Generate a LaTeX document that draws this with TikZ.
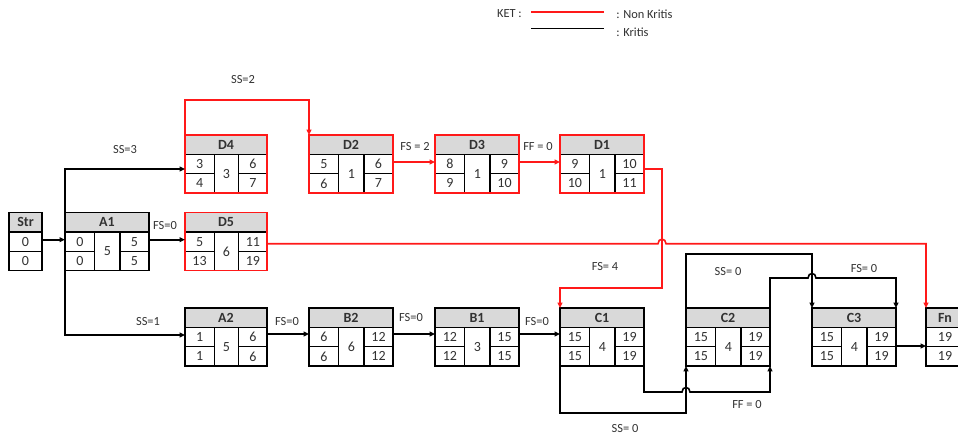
\documentclass[tikz,border=0pt]{standalone}
\usepackage{fontspec}
\setmainfont{Carlito}
\usetikzlibrary{calc,arrows.meta}
\definecolor{nkred}{RGB}{255,25,25}
\definecolor{hdr}{RGB}{217,217,217}
\definecolor{txt}{RGB}{50,50,50}
\tikzset{
  boxshape/.style={rectangle, inner sep=0pt, outer sep=0pt, minimum width=63pt, minimum height=43.5pt, anchor=north west},
  nk/.style={draw=nkred},
  kr/.style={draw=black},
  bord/.style={line width=1pt},
  inln/.style={line width=0.8pt, draw=black},
  num/.style={font=\fontsize{10.5}{12}\selectfont, text=txt, inner sep=0pt},
  ttl/.style={font=\bfseries\fontsize{10.5}{12}\selectfont, text=txt, inner sep=0pt},
  lbl/.style={font=\fontsize{9.3}{11}\selectfont, text=txt, inner sep=0pt},
  conn/.style={line width=1.2pt, draw=black, -{Triangle[length=4pt,width=3.5pt]}},
  nkconn/.style={conn, draw=nkred},
  legline/.style={line width=1.3pt},
}
% #1 options, #2 name/title, #3 top-left, #4 ES, #5 dur, #6 EF, #7 LS, #8 LF
\newcommand\actbox[8]{%
  \node[boxshape,#1,draw=none] (#2) at (#3) {};
  \coordinate (#2hl) at ($(#2.north west)+(0,19.3)$);
  \coordinate (#2hr) at ($(#2.north east)+(0,19.3)$);
  \coordinate (#2ca) at ($(#2hl)!0.355!(#2hr)$);
  \coordinate (#2cb) at ($(#2hl)!0.655!(#2hr)$);
  \coordinate (#2ml) at ($(#2hl)!0.5!(#2.south west)$);
  \coordinate (#2mr) at ($(#2hr)!0.5!(#2.south east)$);
  \coordinate (#2ba) at (#2ca |- #2.south);
  \coordinate (#2bb) at (#2cb |- #2.south);
  \coordinate (#2ma) at (#2ca |- #2ml);
  \coordinate (#2mb) at (#2cb |- #2ml);
  \fill[hdr] (#2.north west) rectangle (#2hr);
  \draw[inln] (#2hl) -- (#2hr);
  \draw[inln] (#2ca) -- (#2ba);
  \draw[inln] (#2cb) -- (#2bb);
  \draw[inln] (#2ml) -- (#2ma);
  \draw[inln] (#2mb) -- (#2mr);
  \draw[bord,#1] (#2.north west) rectangle (#2.south east);
  \node[ttl] (#2t) at ($(#2.north)+(0,9.65)$) {#2};
  \node[num] (#2es) at ($(#2hl)!0.5!(#2ma)$) {#4};
  \node[num] (#2du) at ($(#2ca)!0.5!(#2bb)$) {#5};
  \node[num] (#2ef) at ($(#2cb)!0.5!(#2mr)$) {#6};
  \node[num] (#2ls) at ($(#2ml)!0.5!(#2ba)$) {#7};
  \node[num] (#2lf) at ($(#2mb)!0.5!(#2.south east)$) {#8};
}
% #1 options, #2 name, #3 top-left, #4 v1, #5 v2
\newcommand\termbox[5]{%
  \node[boxshape,#1,draw=none] (#2) at (#3) {};
  \coordinate (#2hl) at ($(#2.north west)+(0,19.3)$);
  \coordinate (#2hr) at ($(#2.north east)+(0,19.3)$);
  \coordinate (#2ml) at ($(#2hl)!0.5!(#2.south west)$);
  \coordinate (#2mr) at ($(#2hr)!0.5!(#2.south east)$);
  \fill[hdr] (#2.north west) rectangle (#2hr);
  \draw[inln] (#2hl) -- (#2hr);
  \draw[inln] (#2ml) -- (#2mr);
  \draw[bord,#1] (#2.north west) rectangle (#2.south east);
  \node[ttl] (#2t) at ($(#2.north)+(0,9.65)$) {#2};
  \node[num] (#2va) at ($(#2hl)!0.5!(#2mr)$) {#4};
  \node[num] (#2vb) at ($(#2ml)!0.5!(#2.south east)$) {#5};
}
\begin{document}
\begin{tikzpicture}[x=0.75pt,y=-0.75pt]
\clip (0,0) rectangle (958,436);
\fill[white] (0,0) rectangle (958,436);

% legend
\node[lbl, anchor=east] (legket) at (522,14) {KET :};
\coordinate (lra) at (531,12);
\coordinate (lrb) at (604,12);
\coordinate (lka) at (531,28.5);
\coordinate (lkb) at (604,28.5);
\draw[legline, draw=nkred] (lra) -- (lrb);
\draw[legline, draw=black] (lka) -- (lkb);
\node[lbl, anchor=west] (legnk) at (616,14) {: Non Kritis};
\node[lbl, anchor=west] (legkr) at (616,32) {: Kritis};

% boxes
\termbox{kr, minimum width=24.75pt}{Str}{9,212.7}{0}{0}
\actbox{kr}{A1}{65,212.7}{0}{5}{5}{0}{5}
\actbox{nk, minimum width=61.5pt}{D4}{185,135}{3}{3}{6}{4}{7}
\actbox{nk, minimum width=61.5pt}{D5}{185,212.7}{5}{6}{11}{13}{19}
\actbox{nk}{D2}{309,135}{5}{1}{6}{6}{7}
\actbox{nk}{D3}{435,135}{8}{1}{9}{9}{10}
\actbox{nk}{D1}{560,135}{9}{1}{10}{10}{11}
\actbox{kr, minimum width=61.5pt}{A2}{185,308}{1}{5}{6}{1}{6}
\actbox{kr}{B2}{309,308}{6}{6}{12}{6}{12}
\actbox{kr}{B1}{435,308}{12}{3}{15}{12}{15}
\actbox{kr}{C1}{560,308}{15}{4}{19}{15}{19}
\actbox{kr}{C2}{686,308}{15}{4}{19}{15}{19}
\actbox{kr}{C3}{812,308}{15}{4}{19}{15}{19}
\termbox{kr, minimum width=28.5pt}{Fn}{926,308}{19}{19}

% connectors (black)
\draw[conn] ($(Str.north east)+(0,27)$) -- ($(A1.north west)+(0,27)$);
\draw[conn] (A1.north west) |- ($(D4.north west)+(0,34)$);
\draw[conn] (A1.south west) |- ($(A2.north west)+(0,27)$);
\draw[conn] ($(A1.north east)+(0,27)$) -- ($(D5.north west)+(0,27)$);
\draw[conn] ($(A2.north east)+(0,26)$) -- ($(B2.north west)+(0,26)$);
\draw[conn] ($(B2.north east)+(0,26)$) -- ($(B1.north west)+(0,26)$);
\draw[conn] ($(B1.north east)+(0,26)$) -- ($(C1.north west)+(0,26)$);
\draw[conn] (C1.south west) -- ++(0,47) -| (C2.south west);
\coordinate (fa) at ($(C1.south east)+(0,26)$);
\coordinate (ha) at (C2.south west |- fa);
\draw[conn] ($(C1.south east)+(0,-6)$) -- (fa) -- ($(ha)+(-4,0)$) .. controls ($(ha)+(-4,-6)$) and ($(ha)+(4,-6)$) .. ($(ha)+(4,0)$) -| (C2.south east);
\draw[conn] (C2.north west) -- ++(0,-54) -| (C3.north west);
\coordinate (fb) at ($(C2.north east)+(0,-30)$);
\coordinate (hb) at (C3.north west |- fb);
\draw[conn] (C2.north east) -- (fb) -- ($(hb)+(-4,0)$) .. controls ($(hb)+(-4,-6)$) and ($(hb)+(4,-6)$) .. ($(hb)+(4,0)$) -| (C3.north east);
\draw[conn] ($(C3.north east)+(0,38)$) -- ($(Fn.north west)+(0,38)$);

% connectors (red)
\draw[nkconn] (D4.north west) -- ++(0,-35) -| (D2.north west);
\draw[nkconn] ($(D2.north east)+(0,27)$) -- ($(D3.north west)+(0,27)$);
\draw[nkconn] ($(D3.north east)+(0,27)$) -- ($(D1.north west)+(0,27)$);
\coordinate (va) at ($(D1.north east)+(18,34)$);
\draw[nkconn] ($(D1.north east)+(0,34)$) -- (va) |- ($(C1.north west)+(0,-20)$) -- (C1.north west);
\coordinate (dfo) at ($(D5.north east)+(0,31)$);
\coordinate (hc) at (va |- dfo);
\draw[nkconn] (dfo) -- ($(hc)+(-4,0)$) .. controls ($(hc)+(-4,-6)$) and ($(hc)+(4,-6)$) .. ($(hc)+(4,0)$) -- (Fn.north west |- dfo) -- (Fn.north west);

% labels
\node[lbl] (lss2) at (243,80) {SS=2};
\node[lbl] (lss3) at (125,150) {SS=3};
\node[lbl] (lfsa) at (165,226) {FS=0};
\node[lbl] (lfs2) at (415,147) {FS = 2};
\node[lbl] (lff0) at (538,147) {FF = 0};
\node[lbl] (lss1) at (148,322) {SS=1};
\node[lbl] (lfsb) at (287,322) {FS=0};
\node[lbl] (lfsc) at (411,318) {FS=0};
\node[lbl] (lfsd) at (537,322) {FS=0};
\node[lbl] (lfs4) at (605,267) {FS= 4};
\node[lbl] (lssa) at (728,272) {SS= 0};
\node[lbl] (lfse) at (864,269) {FS= 0};
\node[lbl] (lffb) at (747,405) {FF = 0};
\node[lbl] (lssb) at (625,429) {SS= 0};
\end{tikzpicture}
\end{document}
